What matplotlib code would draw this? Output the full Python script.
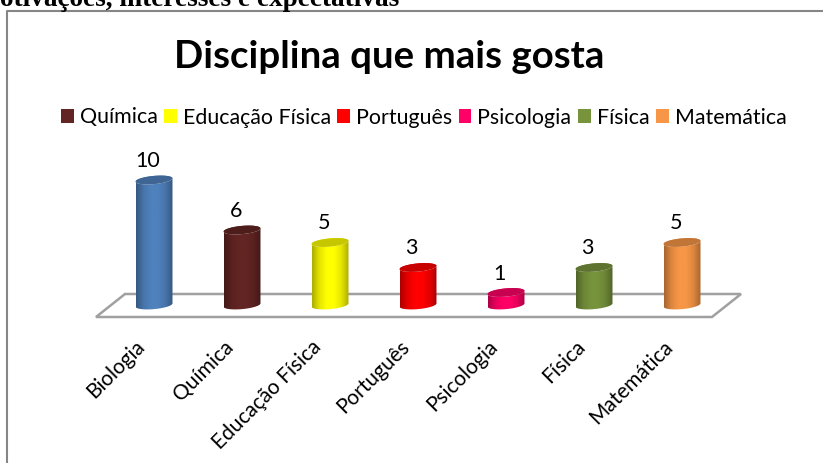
import numpy as np
import matplotlib
matplotlib.use("Agg")
import matplotlib.pyplot as plt
from matplotlib.patches import Patch, PathPatch, Polygon
from matplotlib.path import Path
from matplotlib.colors import LinearSegmentedColormap, to_rgb
from matplotlib.transforms import ScaledTranslation

categories = ["Biologia", "Química", "Educação Física", "Português", "Psicologia", "Física", "Matemática"]
values = [10, 6, 5, 3, 1, 3, 5]
colors = ["#4F81BD", "#632523", "#FFFF00", "#FF0000", "#FF0066", "#77933C", "#F79646"]

W, H = 823, 463
fig = plt.figure(figsize=(W / 100, H / 100), dpi=100, facecolor="white")
FONT = "Lato"

def px_rect(l, t, r, b):
    return [l / W, 1 - b / H, (r - l) / W, (b - t) / H]

# chart frame
frame = fig.add_axes([0, 0, 1, 1], zorder=0)
frame.set_xlim(0, W); frame.set_ylim(H, 0); frame.axis("off")
frame.plot([7, 7, 824], [470, 11, 11], color="#868686", lw=1.5, clip_on=False)
fig.text(0, 1 - 6.5 / H, "otivações, interesses e expectativas", family="Liberation Serif",
         weight="bold", fontsize=19.6, va="baseline", ha="left", color="black")

ax = fig.add_axes(px_rect(95, 100, 742, 320), zorder=1)
x0, step, y0, unit = 154.0, 88.0, 305.0, 12.5
ax.set_xlim((95 - x0) / step, (742 - x0) / step)
ax.set_ylim((y0 - 320) / unit, (y0 - 100) / unit)
ax.patch.set_alpha(0)
for s in ax.spines.values():
    s.set_visible(False)

# floor drawn in axis units
fx = np.array([96, 125, 741, 712]); fy = np.array([317, 294, 294, 317])
ax.add_patch(Polygon(np.c_[(fx - x0) / step, (y0 - fy) / unit], closed=True, fc="white",
                     ec="#A0A0A0", lw=1.8, zorder=1, joinstyle="miter"))

half = 0.21        # half bar width
cap_b = 0.33       # cap half height
shear = 0.13       # tilt of the elliptical ends
t = np.linspace(0, 2 * np.pi, 121)
for i, (v, c) in enumerate(zip(values, colors)):
    rgb = np.array(to_rgb(c))
    xs = i + half * np.cos(t)
    top = v + cap_b * np.sin(t) + shear * np.cos(t)
    bottom = cap_b * np.sin(t) + shear * np.cos(t)
    front = (t >= np.pi) & (t <= 2 * np.pi)
    bx, by = xs[front], bottom[front]
    body = np.r_[np.c_[bx, by], np.c_[xs[front][::-1], top[front][::-1]],
                 np.c_[xs[:61], top[:61]]]
    cmap = LinearSegmentedColormap.from_list("c", [rgb * 0.68, rgb * 0.9, rgb, rgb, rgb * 0.9, rgb * 0.68])
    im = ax.imshow(np.linspace(0, 1, 64)[None, :], extent=[i - half, i + half, -1, v + 1],
                   cmap=cmap, aspect="auto", zorder=3, origin="lower")
    clip = PathPatch(Path(body, closed=False), transform=ax.transData, fc="none", ec="none")
    ax.add_patch(clip)
    im.set_clip_path(clip)
    ax.fill(xs, top, color=rgb * 0.78, lw=0, zorder=4)
    ax.text(i - 0.07, v + 1.52, str(v), ha="center", va="center", fontsize=15.5, family=FONT, color="black", zorder=5)

ax.set_xlim((95 - x0) / step, (742 - x0) / step)
ax.set_ylim((y0 - 320) / unit, (y0 - 100) / unit)
ax.set_yticks([])
ax.set_xticks(range(len(categories)))
ax.set_xticklabels(categories, rotation=45, ha="right", rotation_mode="anchor", fontsize=15.0, family=FONT)
ax.tick_params(axis="x", length=0, pad=14)
offset = ScaledTranslation(-19 / 100, 3 / 100, fig.dpi_scale_trans)
for lab in ax.get_xticklabels():
    lab.set_transform(lab.get_transform() + offset)

fig.text(389.5 / W, 1 - 57.5 / H, "Disciplina que mais gosta", family=FONT, weight="bold",
         fontsize=27.6, ha="center", va="center", color="black")

handles = [Patch(fc=c, ec="none", label=n) for n, c in zip(categories[1:], colors[1:])]
fig.legend(handles=handles, loc="center", bbox_to_anchor=(423.5 / W, 1 - 117.5 / H), ncol=6, frameon=False,
           prop={"family": FONT, "size": 15.4}, handlelength=0.6, handleheight=0.6,
           handletextpad=0.28, columnspacing=0.3, borderpad=0, borderaxespad=0)

fig.savefig("out.png", dpi=100)
